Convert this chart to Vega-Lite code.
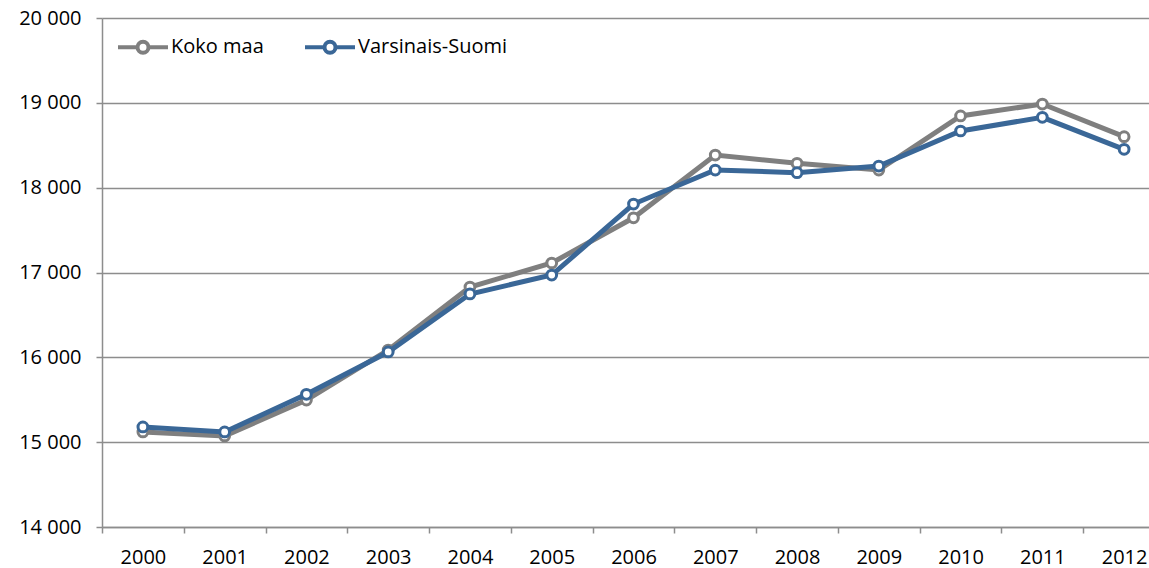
{
  "$schema": "https://vega.github.io/schema/vega-lite/v6.json",
  "width": 1047,
  "height": 509,
  "autosize": {"type": "none"},
  "padding": {"left": 102, "top": 18, "right": 0, "bottom": 41},
  "background": "white",
  "config": {
    "view": {"stroke": null},
    "font": "Open Sans",
    "axis": {
      "labelFont": "Open Sans",
      "labelFontSize": 20,
      "labelColor": "#000000",
      "domainColor": "#8d8d8d",
      "domainWidth": 1.5,
      "tickColor": "#8d8d8d",
      "tickWidth": 1.5,
      "tickSize": 6,
      "gridColor": "#8d8d8d",
      "gridWidth": 1.5,
      "title": null
    }
  },
  "data": {
    "values": [
      {"year": "2000", "series": "Koko maa", "value": 15120},
      {"year": "2001", "series": "Koko maa", "value": 15073},
      {"year": "2002", "series": "Koko maa", "value": 15497},
      {"year": "2003", "series": "Koko maa", "value": 16086},
      {"year": "2004", "series": "Koko maa", "value": 16829},
      {"year": "2005", "series": "Koko maa", "value": 17112},
      {"year": "2006", "series": "Koko maa", "value": 17645},
      {"year": "2007", "series": "Koko maa", "value": 18385},
      {"year": "2008", "series": "Koko maa", "value": 18287},
      {"year": "2009", "series": "Koko maa", "value": 18208},
      {"year": "2010", "series": "Koko maa", "value": 18845},
      {"year": "2011", "series": "Koko maa", "value": 18986},
      {"year": "2012", "series": "Koko maa", "value": 18601},
      {"year": "2000", "series": "Varsinais-Suomi", "value": 15179},
      {"year": "2001", "series": "Varsinais-Suomi", "value": 15120},
      {"year": "2002", "series": "Varsinais-Suomi", "value": 15564},
      {"year": "2003", "series": "Varsinais-Suomi", "value": 16063},
      {"year": "2004", "series": "Varsinais-Suomi", "value": 16747},
      {"year": "2005", "series": "Varsinais-Suomi", "value": 16970},
      {"year": "2006", "series": "Varsinais-Suomi", "value": 17807},
      {"year": "2007", "series": "Varsinais-Suomi", "value": 18208},
      {"year": "2008", "series": "Varsinais-Suomi", "value": 18177},
      {"year": "2009", "series": "Varsinais-Suomi", "value": 18255},
      {"year": "2010", "series": "Varsinais-Suomi", "value": 18668},
      {"year": "2011", "series": "Varsinais-Suomi", "value": 18829},
      {"year": "2012", "series": "Varsinais-Suomi", "value": 18452}
    ]
  },
  "encoding": {
    "x": {
      "field": "year",
      "type": "nominal",
      "sort": null,
      "scale": {"type": "band", "range": [0, 1063], "paddingInner": 0, "paddingOuter": 0},
      "axis": {"labelAngle": 0, "tickBand": "extent", "labelPadding": 14, "grid": false}
    },
    "y": {
      "field": "value",
      "type": "quantitative",
      "scale": {"domain": [14000, 20000], "nice": false},
      "axis": {
        "values": [14000, 15000, 16000, 17000, 18000, 19000, 20000],
        "format": ",d",
        "labelExpr": "replace(datum.label, ',', ' ')",
        "labelPadding": 15,
        "grid": true
      }
    },
    "color": {
      "field": "series",
      "type": "nominal",
      "scale": {"domain": ["Koko maa", "Varsinais-Suomi"], "range": ["#7f7f7f", "#3a6797"]},
      "legend": {
        "title": null,
        "orient": "none",
        "legendX": 14,
        "legendY": 2,
        "direction": "horizontal",
        "padding": 0,
        "columnPadding": 33,
        "labelFont": "Open Sans",
        "labelFontSize": 20,
        "labelColor": "#000000",
        "labelOffset": 1,
        "symbolType": "M-1,0H-0.22M0.22,0H1M0.22,0A0.22,0.22,0,1,1,-0.22,0A0.22,0.22,0,1,1,0.22,0Z",
        "symbolSize": 2500,
        "symbolStrokeWidth": 4,
        "encode": {"symbols": {"update": {"fill": {"value": "white"}, "strokeWidth": {"value": 4}}}}
      }
    }
  },
  "layer": [
    {
      "transform": [{"filter": "datum.series == 'Koko maa'"}],
      "mark": {"type": "line", "strokeWidth": 5}
    },
    {
      "transform": [{"filter": "datum.series == 'Koko maa'"}],
      "mark": {"type": "point", "shape": "circle", "filled": false, "fill": "white", "fillOpacity": 1, "opacity": 1, "size": 95, "strokeWidth": 3}
    },
    {
      "transform": [{"filter": "datum.series == 'Varsinais-Suomi'"}],
      "mark": {"type": "line", "strokeWidth": 5}
    },
    {
      "transform": [{"filter": "datum.series == 'Varsinais-Suomi'"}],
      "mark": {"type": "point", "shape": "circle", "filled": false, "fill": "white", "fillOpacity": 1, "opacity": 1, "size": 95, "strokeWidth": 3}
    }
  ]
}
